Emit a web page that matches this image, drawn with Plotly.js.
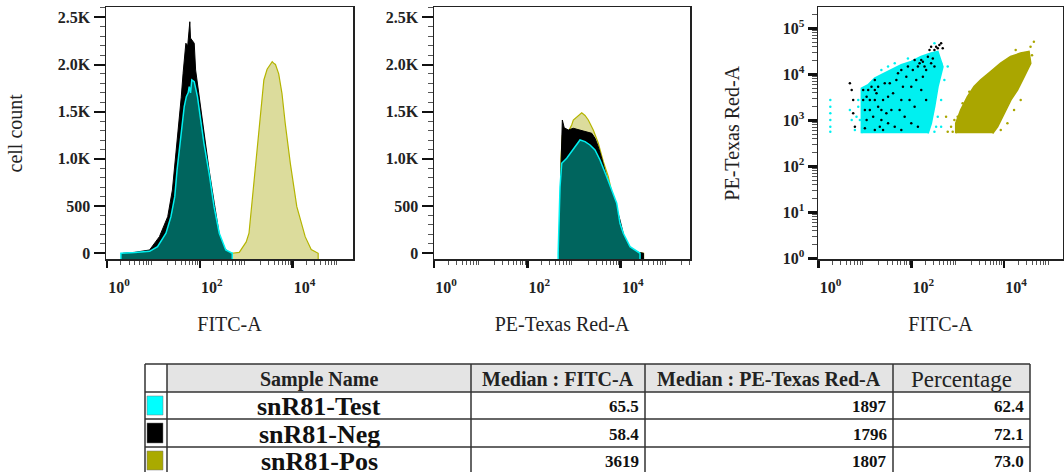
<!DOCTYPE html>
<html>
<head>
<meta charset="utf-8">
<script src="https://cdn.plot.ly/plotly-3.0.1.min.js"></script>
<style>html,body{margin:0;padding:0;background:#fff;}#chart{width:1064px;height:472px;}</style>
</head>
<body>
<div id="chart"></div>
<script>
// ---------- DATA ----------
// Panel 1: FITC-A histograms (intensity, cell count)
const fitcTestX = [2, 4, 8.3, 12.3, 18.7, 23.9, 28.9, 32.4, 36.3, 41, 46.2, 51.3, 56.2, 59.2, 63.1, 67.3, 75.9, 89.1, 105, 123, 159, 203, 263, 363, 501];
const fitcTestY = [0, 8, 20, 70, 212, 388, 600, 882, 1094, 1306, 1553, 1659, 1700, 1765, 1700, 1836, 1818, 1659, 1412, 1165, 847, 494, 212, 35, 0];
const fitcNegX = [2.2, 4, 8.3, 13.5, 20.4, 25.7, 30.9, 36.3, 39.8, 43.7, 50.1, 55, 58.9, 61, 63.1, 69.2, 75.9, 81.3, 93.3, 105, 123, 158, 204, 263, 331, 427, 501];
const fitcNegY = [0, 10, 35, 176, 388, 670, 1059, 1412, 1650, 1907, 2225, 2200, 2330, 2453, 2280, 2250, 2225, 1942, 1730, 1540, 1250, 890, 540, 200, 60, 5, 0];
const fitcPosX = [501, 708, 1000, 1148, 1445, 1862, 2399, 2818, 3311, 3631, 3981, 4266, 5012, 5888, 6918, 8913, 12303, 18621, 25119, 35481];
const fitcPosY = [0, 10, 120, 212, 741, 1271, 1836, 1950, 2000, 2030, 2010, 2000, 1900, 1695, 1377, 953, 494, 176, 40, 0];

// Panel 2: PE-Texas Red-A histograms
const peTestX = [457, 501, 545, 697, 891, 1143, 1343, 1722, 2203, 2818, 3606, 5012, 6427, 8222, 9661, 11376, 15849, 25942];
const peTestY = [0, 700, 953, 1006, 1077, 1147, 1200, 1183, 1147, 1094, 988, 811, 670, 530, 318, 212, 70, 0];
const peNegX = [501, 525, 543, 562, 617, 755, 966, 1343, 1811, 2399, 2818, 3311, 3917, 5012, 6918, 9661, 12303, 18621, 30903];
const peNegY = [0, 900, 1380, 1412, 1330, 1306, 1324, 1306, 1288, 1271, 1218, 1129, 1006, 811, 600, 353, 141, 20, 0];
const pePosX = [501, 525, 562, 755, 891, 966, 1148, 1343, 1462, 1722, 2023, 2588, 3311, 4246, 5433, 6918, 9661, 12303, 18621, 30903];
const pePosY = [0, 1000, 1250, 1290, 1359, 1412, 1440, 1470, 1489, 1460, 1412, 1306, 1165, 970, 811, 580, 330, 130, 15, 0];

// Panel 3: FITC-A vs PE-Texas Red-A dot plot
// dense population outlines (FITC, PE)
const testCloudFITC = [8.5, 8.5, 11.8, 16.3, 22.7, 37.2, 61, 100, 163, 268, 372, 476, 372, 316, 268, 228];
const testCloudPE   = [521, 4970, 5850, 8180, 9660, 12400, 15900, 18800, 24200, 28600, 31000, 14600, 5370, 1980, 861, 521];
const posCloudFITC  = [918, 918, 1175, 1637, 2270, 3155, 5160, 8470, 13870, 22700, 34200, 37200, 26800, 19300, 13870, 9980, 7190, 5620];
const posCloudPE    = [521, 861, 1675, 3260, 5370, 7520, 11400, 17300, 24200, 28600, 31000, 17300, 8870, 4560, 2760, 1420, 726, 521];
// sparse events
const testDotsFITC = [1.8, 1.8, 1.8, 1.8, 1.8, 1.8, 4.75, 5.2, 6.1, 7.2, 6.6, 31.6, 440, 610, 372, 440, 316, 7.2, 7.8, 22.7, 44, 84.7, 316, 517, 440, 343];
const testDotsPE   = [2760, 1980, 1420, 1015, 728, 566, 1670, 1015, 615, 2760, 1200, 14700, 17300, 14700, 1200, 728, 566, 1980, 1015, 12400, 17300, 22200, 47200, 7520, 2760, 728];
const negDotsFITC = [4.75, 5.2, 5.6, 9.2, 9.2, 10, 10.9, 10, 12.8, 13.9, 16.4, 17.8, 19.3, 22.7, 24.7, 26.8, 31.6, 37.3, 44, 47.7, 61, 72, 84.7, 100, 118, 139, 151, 164, 178, 193, 228, 268, 316, 343, 372, 404, 16.4, 22.7, 31.6, 61, 100, 164, 209, 5.6, 6.1,
  11.8, 12.8, 15.1, 16.4, 19.3, 21, 24.7, 29.1, 34.4, 40.5, 51.8, 56.2, 66.2, 78.2, 92, 108, 128, 139, 178, 209, 247, 291, 316, 440, 476, 268, 118, 61, 16.4, 10.9];
const negDotsPE   = [6370, 4560, 2760, 4560, 2760, 1670, 1015, 670, 2760, 5380, 7520, 3860, 1980, 1015, 615, 6370, 3270, 1670, 728, 7520, 2760, 1200, 14700, 5380, 1980, 728, 17300, 20500, 8900, 14700, 24200, 17300, 33800, 39900, 36700, 43400, 615, 1670, 860, 615, 860, 4560, 2760, 1420, 728,
  4560, 1670, 1200, 2760, 5380, 728, 2760, 1420, 6370, 3860, 10500, 1670, 5380, 8900, 2760, 12400, 7520, 14700, 18800, 12400, 33800, 22200, 14700, 47200, 36700, 39900, 20500, 12400, 4560, 3270];
const posDotsFITC = [610, 562, 720, 848, 43900, 37200, 29100, 17800, 22800, 8470, 11800, 16400, 22800, 781, 1000, 1280, 1780, 31600, 40000];
const posDotsPE   = [566, 1200, 728, 1015, 51200, 39900, 28600, 33800, 22300, 615, 860, 1670, 2760, 566, 1200, 2340, 4160, 20000, 26000];

// Table
const tableHeaders = ["Sample Name", "Median : FITC-A", "Median : PE-Texas Red-A", "Percentage"];
const sampleNames = ["snR81-Test", "snR81-Neg", "snR81-Pos"];
const sampleColors = ["#00ffff", "#000000", "#aaaa00"];
const medianFITC = [65.5, 58.4, 3619];
const medianPE = [1897, 1796, 1807];
const percentage = [62.4, 72.1, 73.0];

// Axis labels
const countTickVals = [0, 500, 1000, 1500, 2000, 2500];
const countTickText = ["0", "500", "1.0K", "1.5K", "2.0K", "2.5K"];
const labelDecades = [1, 100, 10000];
const labelDecadeText = ["10<sup>0</sup>", "10<sup>2</sup>", "10<sup>4</sup>"];
const oddDecades = [10, 1000, 100000];
const allDecades = [1, 10, 100, 1000, 10000, 100000];
const allDecadeText = ["10<sup>0</sup>", "10<sup>1</sup>", "10<sup>2</sup>", "10<sup>3</sup>", "10<sup>4</sup>", "10<sup>5</sup>"];

// ---------- STYLE ----------
const W = 1064, H = 472;
const SERIF = "Liberation Serif, Times New Roman, serif";
const C_TEST_FILL = "#00655e", C_TEST_LINE = "#00f0f0";
const C_NEG = "#000000";
const C_POS_FILL = "#dcdc9c", C_POS_LINE = "#b4b400";
const COUNT_RANGE = [-64, 2606];
const PLOT_Y = [1 - 259.3 / H, 1 - 7.3 / H];

const minorLog = [];
for (let d = 0; d < 6; d++) for (let k = 2; k <= 9; k++) minorLog.push(k * Math.pow(10, d));

function area(xs, ys, xa, ya, fillc, linec, lw) {
  return {
    type: "scatter", mode: "lines", xaxis: xa, yaxis: ya,
    x: [xs[0]].concat(xs, [xs[xs.length - 1]]),
    y: [COUNT_RANGE[0]].concat(ys, [COUNT_RANGE[0]]),
    fill: "toself", fillcolor: fillc,
    line: { color: linec, width: lw }, hoverinfo: "skip"
  };
}
function cloud(xs, ys, xa, ya, c) {
  return { type: "scatter", mode: "lines", xaxis: xa, yaxis: ya, x: xs, y: ys,
    fill: "toself", fillcolor: c, line: { color: c, width: 2 }, hoverinfo: "skip" };
}
function dots(xs, ys, xa, ya, c, s) {
  return { type: "scatter", mode: "markers", xaxis: xa, yaxis: ya, x: xs, y: ys,
    marker: { color: c, size: s }, hoverinfo: "skip" };
}

const traces = [
  area(fitcPosX, fitcPosY, "x", "y", C_POS_FILL, C_POS_LINE, 1.2),
  area(fitcNegX, fitcNegY, "x", "y", C_NEG, C_NEG, 1),
  area(fitcTestX, fitcTestY, "x", "y", C_TEST_FILL, C_TEST_LINE, 1.5),
  area(pePosX, pePosY, "x2", "y2", C_POS_FILL, C_POS_LINE, 1.2),
  area(peNegX, peNegY, "x2", "y2", C_NEG, C_NEG, 1),
  area(peTestX, peTestY, "x2", "y2", C_TEST_FILL, C_TEST_LINE, 1.5),
  cloud(testCloudFITC, testCloudPE, "x3", "y3", "#00f0f0"),
  dots(testDotsFITC, testDotsPE, "x3", "y3", "#00f0f0", 2.5),
  cloud(posCloudFITC, posCloudPE, "x3", "y3", "#aaa600"),
  dots(posDotsFITC, posDotsPE, "x3", "y3", "#aaa600", 2.5),
  dots(negDotsFITC, negDotsPE, "x3", "y3", "#000000", 2.5)
];

const tickFont = { family: SERIF, size: 16, color: "#222222", weight: "bold" };
const titleFont = { family: SERIF, size: 20, color: "#222222" };
const minorX = { tickmode: "array", tickvals: minorLog, ticks: "outside", ticklen: 4, tickwidth: 1, tickcolor: "#555" };

// labelled log x axis (carries data, labels at 10^0, 10^2, 10^4)
function logX(dom, range, title, anchor) {
  return {
    domain: dom, type: "log", range: range, anchor: anchor,
    showline: true, mirror: true, linecolor: "#222", linewidth: 1.5,
    showgrid: false, zeroline: false,
    tickmode: "array", tickvals: labelDecades, ticktext: labelDecadeText,
    ticks: "outside", ticklen: 7, tickwidth: 2.5, tickcolor: "#111",
    ticklabelshift: 12, ticklabelstandoff: 6,
    minor: minorX,
    tickfont: tickFont,
    title: { text: title, font: titleFont, standoff: 22 }
  };
}
// overlay axis only for the unlabelled decade tick marks
function decadeMarks(dom, range, over, anchor) {
  return {
    domain: dom, type: "log", range: range, overlaying: over, anchor: anchor, side: "bottom",
    showline: false, showgrid: false, zeroline: false, showticklabels: false,
    tickmode: "array", tickvals: oddDecades,
    ticks: "outside", ticklen: 7, tickwidth: 2.5, tickcolor: "#111"
  };
}
function countY(anchor, title) {
  const ax = {
    domain: PLOT_Y, range: COUNT_RANGE, anchor: anchor,
    showline: true, mirror: true, linecolor: "#222", linewidth: 1.5,
    showgrid: false, zeroline: false,
    tickmode: "array", tickvals: countTickVals, ticktext: countTickText,
    ticks: "outside", ticklen: 11, tickwidth: 2, tickcolor: "#111",
    minor: { dtick: 100, ticks: "outside", ticklen: 5, tickwidth: 1, tickcolor: "#555" },
    tickfont: tickFont
  };
  if (title) ax.title = { text: title, font: titleFont, standoff: 30 };
  return ax;
}

const D1 = [106 / W, 353 / W], R1 = [-0.02, 5.30];
const D2 = [434 / W, 690 / W], R2 = [0, 5.485];
const D3 = [818 / W, 1063 / W], R3 = [-0.01, 5.27];

// ---------- TABLE (shapes + annotations) ----------
const colEdges = [145, 167, 471, 645, 893, 1030];
const rowEdges = [364, 392, 419, 447, 474];
const px = v => v / W, py = v => 1 - v / H;
const shapes = [];
const annotations = [];
// header background
shapes.push({ type: "rect", xref: "paper", yref: "paper", x0: px(colEdges[1]), x1: px(colEdges[5]), y0: py(rowEdges[1]), y1: py(rowEdges[0]),
  fillcolor: "#e4e4e4", line: { width: 0 }, layer: "below" });
// colour swatches
sampleColors.forEach((c, i) => {
  shapes.push({ type: "rect", xref: "paper", yref: "paper",
    x0: px(colEdges[0] + 2), x1: px(colEdges[1] - 4), y0: py(rowEdges[i + 2] - 4), y1: py(rowEdges[i + 1] + 4),
    fillcolor: c, line: { color: "#777", width: 0.5 } });
});
// grid lines
rowEdges.slice(0, 4).forEach(r => shapes.push({ type: "line", xref: "paper", yref: "paper",
  x0: px(colEdges[0]), x1: px(colEdges[5]), y0: py(r), y1: py(r), line: { color: "#333", width: 1.5 } }));
colEdges.forEach(c => shapes.push({ type: "line", xref: "paper", yref: "paper",
  x0: px(c), x1: px(c), y0: py(rowEdges[0]), y1: 0, line: { color: "#333", width: 1.5 } }));
// header texts
tableHeaders.forEach((h, j) => {
  const isPct = j === 3;
  annotations.push({ xref: "paper", yref: "paper", showarrow: false,
    x: px((colEdges[j + 1] + colEdges[j + 2]) / 2), y: py((rowEdges[0] + rowEdges[1]) / 2 + 1),
    xanchor: "center", yanchor: "middle",
    text: isPct ? h : "<b>" + h + "</b>",
    font: { family: SERIF, size: isPct ? 23 : 20, color: "#222" } });
});
// body texts
sampleNames.forEach((n, i) => {
  const yc = py((rowEdges[i + 1] + rowEdges[i + 2]) / 2 + 1);
  annotations.push({ xref: "paper", yref: "paper", showarrow: false, x: px((colEdges[1] + colEdges[2]) / 2), y: yc,
    xanchor: "center", yanchor: "middle", text: "<b>" + n + "</b>", font: { family: SERIF, size: 26, color: "#111" } });
  const nums = [String(medianFITC[i]), String(medianPE[i]), percentage[i].toFixed(1)];
  nums.forEach((t, k) => {
    annotations.push({ xref: "paper", yref: "paper", showarrow: false, x: px(colEdges[k + 3] - 4), y: yc,
      xanchor: "right", yanchor: "middle", text: "<b>" + t + "</b>", font: { family: SERIF, size: 17, color: "#111" } });
  });
});

const layout = {
  width: W, height: H,
  margin: { l: 0, r: 0, t: 0, b: 0 },
  paper_bgcolor: "#ffffff", plot_bgcolor: "#ffffff",
  showlegend: false,
  xaxis: logX(D1, R1, "FITC-A", "y"),
  yaxis: countY("x", "cell count"),
  xaxis2: logX(D2, R2, "PE-Texas Red-A", "y2"),
  yaxis2: countY("x2", null),
  xaxis3: logX(D3, R3, "FITC-A", "y3"),
  yaxis3: {
    domain: PLOT_Y, type: "log", range: [-0.022, 5.457], anchor: "x3",
    showline: true, mirror: true, linecolor: "#222", linewidth: 1.5,
    showgrid: false, zeroline: false,
    tickmode: "array", tickvals: allDecades, ticktext: allDecadeText,
    ticks: "outside", ticklen: 9, tickwidth: 2.5, tickcolor: "#111",
    minor: { tickmode: "array", tickvals: minorLog, ticks: "outside", ticklen: 5, tickwidth: 1, tickcolor: "#555" },
    tickfont: tickFont,
    title: { text: "PE-Texas Red-A", font: titleFont, standoff: 37 }
  },
  xaxis4: decadeMarks(D1, R1, "x", "y"),
  xaxis5: decadeMarks(D2, R2, "x2", "y2"),
  xaxis6: decadeMarks(D3, R3, "x3", "y3"),
  shapes: shapes,
  annotations: annotations
};

Plotly.newPlot("chart", traces, layout, { staticPlot: true, displayModeBar: false });
</script>
</body>
</html>
